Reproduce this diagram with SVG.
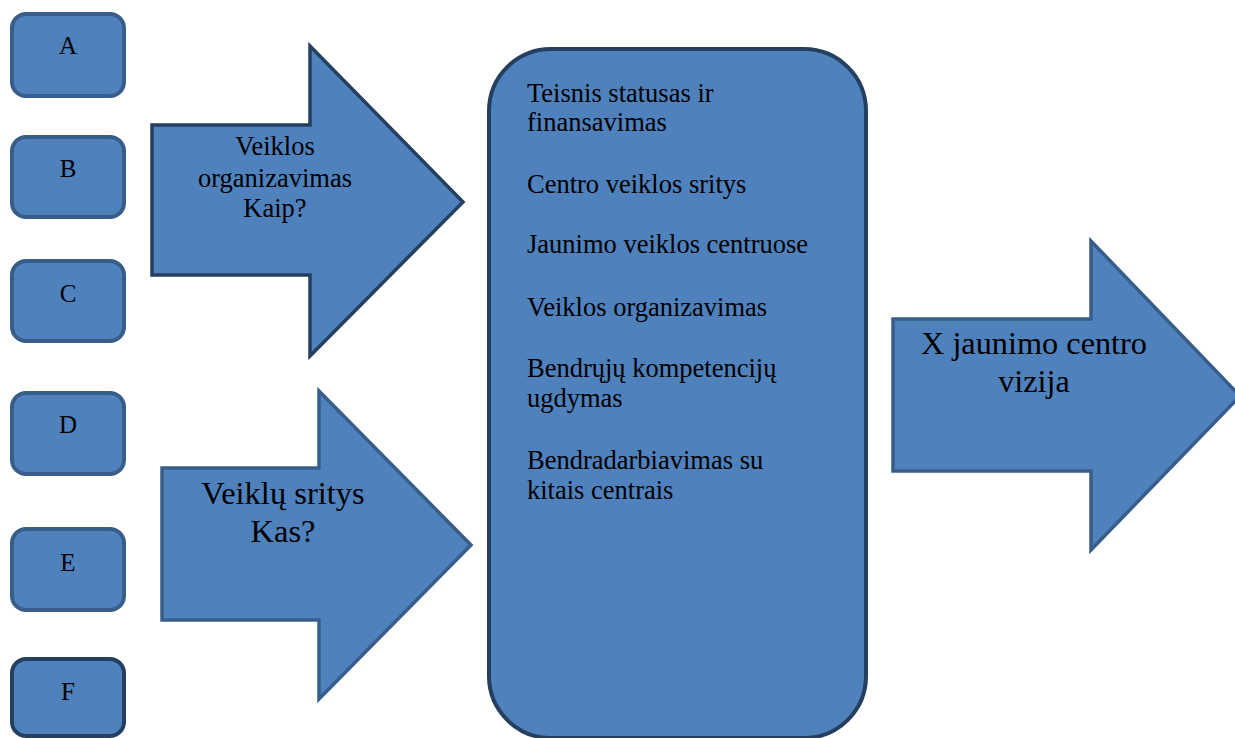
<svg xmlns="http://www.w3.org/2000/svg" width="1235" height="738" viewBox="0 0 1235 738">
<style>
.box{fill:#4f81bd;stroke:#385d8a;stroke-width:4}
.arr{fill:#4f81bd;stroke:#385d8a;stroke-width:3.5;stroke-linejoin:miter}
.dark{stroke:#243f60}
.t{font-family:"Liberation Serif","Times New Roman",serif;fill:#000}
.lt{font-size:25px;text-anchor:middle}
.ct{font-size:26.5px}
</style>
<rect width="1235" height="738" fill="#fff"/>
<g id="nodeA"><rect class="box" x="12" y="14" width="112" height="82" rx="14"/><text class="t lt" x="68" y="54">A</text></g>
<g id="nodeB"><rect class="box" x="12" y="137" width="112" height="80" rx="14"/><text class="t lt" x="68" y="177">B</text></g>
<g id="nodeC"><rect class="box" x="12" y="261" width="112" height="80" rx="14"/><text class="t lt" x="68" y="302">C</text></g>
<g id="nodeD"><rect class="box" x="12" y="393" width="112" height="81" rx="14"/><text class="t lt" x="68" y="433">D</text></g>
<g id="nodeE"><rect class="box" x="12" y="529" width="112" height="81" rx="14"/><text class="t lt" x="68" y="571">E</text></g>
<g id="nodeF"><rect class="box dark" x="12" y="659" width="112" height="77" rx="14"/><text class="t lt" x="68" y="700">F</text></g>
<g id="arrow1"><path class="arr dark" d="M152,125 H310 V46 L463,202 L310,356 V275 H152 Z"/><text class="t" font-size="26.5" text-anchor="middle" x="275" y="155">Veiklos</text><text class="t" font-size="26.5" text-anchor="middle" x="275" y="187">organizavimas</text><text class="t" font-size="26.5" text-anchor="middle" x="275" y="217">Kaip?</text></g>
<g id="arrow2"><path class="arr" d="M162,468 H319 V391 L471,545 L319,699 V620 H162 Z"/><text class="t" font-size="32.5" text-anchor="middle" x="283" y="504">Veiklų sritys</text><text class="t" font-size="32.5" text-anchor="middle" x="283" y="542">Kas?</text></g>
<g id="center"><rect class="box dark" x="489" y="49" width="377" height="689" rx="62"/>
<g class="t ct"><text x="527" y="102">Teisnis statusas ir</text><text x="527" y="131">finansavimas</text><text x="527" y="193">Centro veiklos sritys</text><text x="527" y="253">Jaunimo veiklos centruose</text><text x="527" y="316">Veiklos organizavimas</text><text x="527" y="377">Bendrųjų kompetencijų</text><text x="527" y="407">ugdymas</text><text x="527" y="469">Bendradarbiavimas su</text><text x="527" y="499">kitais centrais</text></g></g>
<g id="arrow3"><path class="arr" d="M893,319 H1091 V241 L1240,396 L1091,550 V471 H893 Z"/><text class="t" font-size="32.3" text-anchor="middle" x="1034" y="354">X jaunimo centro</text><text class="t" font-size="32.3" text-anchor="middle" x="1034" y="392">vizija</text></g>
<g id="connectors"></g>
</svg>
